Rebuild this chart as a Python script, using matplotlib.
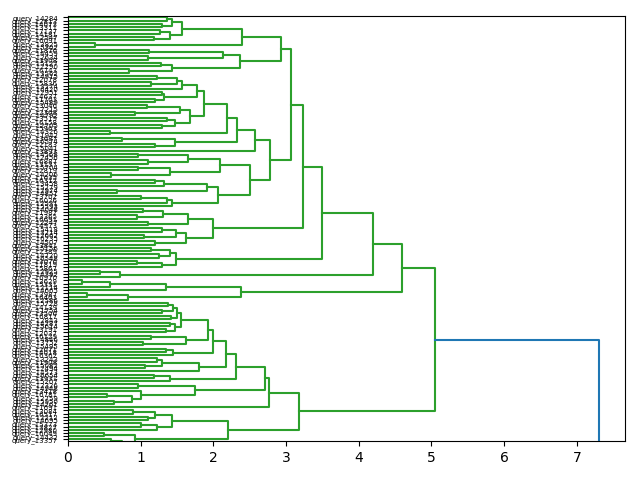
# dendrogram of query clusters (horizontal, leaves on the left)
import matplotlib.pyplot as plt

L = 0  # marks a single leaf

# leaf ids, listed from top to bottom
leaf_ids = [14284, 12813, 14073, 13311, 17137, 14181, 12547, 16091, 13825, 15302,
            11876, 14459, 12634, 13908, 15127, 12290, 16743, 13562, 14915, 12078,
            15836, 13274, 16420, 12951, 14637, 11703, 15489, 13046, 17215, 12368,
            14792, 13519, 16158, 12705, 15963, 14326, 11942, 13687, 16574, 12183,
            15041, 13893, 14568, 12456, 16887, 13137, 15704, 12819, 14206, 11635,
            16312, 13458, 15279, 12974, 14851, 13702, 16026, 12531, 15593, 14048,
            11987, 13365, 16691, 12247, 14973, 15418, 13214, 12662, 16235, 14507,
            13841, 15156, 12389, 14720, 16548, 13076, 11819, 15867, 12925, 14392,
            16970, 13629, 15331, 12114, 14665, 13987, 16403, 12586, 15728, 14139,
            11754, 13506, 16817, 12843, 14287, 15614, 13191, 12037, 16129, 14846,
            13752, 15495, 12671, 14018, 16362, 13243, 11908, 15082, 12494, 14573,
            16654, 13931, 15207, 12326, 14948, 13418, 16781, 12759, 15950, 14261,
            11691, 13084, 16517, 12212, 14695, 15373, 13827, 12980, 16049, 14432,
            13357]
label_prefix = 'query_'

# sub clusters as (merge distance, upper child, lower child)
A1 = (2.40, (1.57, (1.43, (1.37, L, L), (1.30, L, L)),
                   (1.41, (1.27, L, L), (1.19, L, L))),
      (0.38, L, L))
A2 = (2.37, (2.14, (1.12, L, L), (1.10, L, L)),
      (1.43, (1.28, L, L), (0.84, L, L)))

B_top = (1.78, (1.57, (1.50, (1.22, L, L), (1.14, L, L)), L),
         (1.32, (1.29, L, L), (1.20, L, L)))
B_mid = (1.68, (1.54, (1.09, L, L), (0.93, L, L)),
         (1.47, (1.36, L, L), (1.30, L, L)))
B1 = (2.19, (1.87, B_top, B_mid), (0.58, L, L))
B2 = (1.47, (0.75, L, L), (1.20, L, L))
B4a = (2.09, (1.65, (0.96, L, L), (1.10, L, L)),
       (1.40, (0.96, L, L), (0.60, L, L)))
B4b = (2.07, (1.91, (1.32, (1.20, L, L), L), (0.67, L, L)),
       (1.43, (1.36, (1.00, L, L), L), L))
B = (2.78, (2.58, (2.32, B1, B2), L), (2.50, B4a, B4b))

C = (2.00, (1.65, (1.31, (1.04, L, L), (0.95, L, L)), (1.10, L, L)),
     (1.63, (1.49, (1.30, L, L), (1.05, L, L)), (1.20, L, L)))
D = (1.49, (1.41, (1.15, L, L), (1.26, L, L)), (1.30, (0.95, L, L), L))
E = (0.72, (0.44, L, L), L)
F = (2.38, (1.35, (0.58, (0.19, L, L), L), L),
     (0.83, (0.26, L, L), L))

Q1 = (1.55, (1.50, (1.45, (1.38, L, L), (1.30, L, L)), (1.42, L, L)),
      (1.48, (1.40, L, L), (1.35, L, L)))
Q2 = (1.62, (1.15, L, L), (1.04, L, L))
Q3 = (1.45, (1.35, L, L), L)
Q4 = (1.30, (1.22, L, L), (1.06, L, L))
R2 = (1.40, (1.18, L, L), L)
R3 = (0.97, L, L)
R5 = (0.88, (0.54, L, L), (0.63, L, L))
G1 = (2.77, (2.71, (2.31, (2.18, (2.00, (1.93, Q1, Q2), Q3), (1.80, Q4, L)), R2),
             (1.75, R3, (1.00, L, R5))), L)
G2 = (2.20, (1.43, (1.20, (0.90, L, L), (1.10, L, L)), (1.22, (1.00, L, L), L)),
      (0.93, (0.50, L, L), (0.75, (0.60, L, L), L)))
G = (3.18, G1, G2)

# top level merges
root = (7.30, (5.05, (4.60, (4.20, (3.50, (3.23, (3.07, (2.93, A1, A2), B), C), D),
                               E), F), G), L)

green = '#2ca02c'
blue = '#1f77b4'

fig, ax = plt.subplots(figsize=(6.4, 4.8), dpi=100)
n = len(leaf_ids)
count = [0]


def draw(node, color):
    """ draw one link and return its (y, height) """
    if not isinstance(node, tuple):
        y = 10 * (n - 1 - count[0]) + 5
        count[0] += 1
        return y, 0.0
    h, upper, lower = node
    y1, h1 = draw(upper, green)
    y2, h2 = draw(lower, green)
    ax.plot([h1, h, h, h2], [y1, y1, y2, y2], color=color, lw=1.5)
    return (y1 + y2) / 2, h


draw(root, blue)

# leaf labels, bottom leaf first
labels = [label_prefix + str(i) for i in leaf_ids][::-1]
ax.set_yticks(range(5, 10 * n, 10))
ax.set_yticklabels(labels, fontsize=5)
ax.set_ylim(0, 10 * n)
ax.set_xlim(0, root[0] * 1.05)

plt.subplots_adjust(left=0.106, right=0.977, top=0.967, bottom=0.081)
plt.savefig('out.png')
